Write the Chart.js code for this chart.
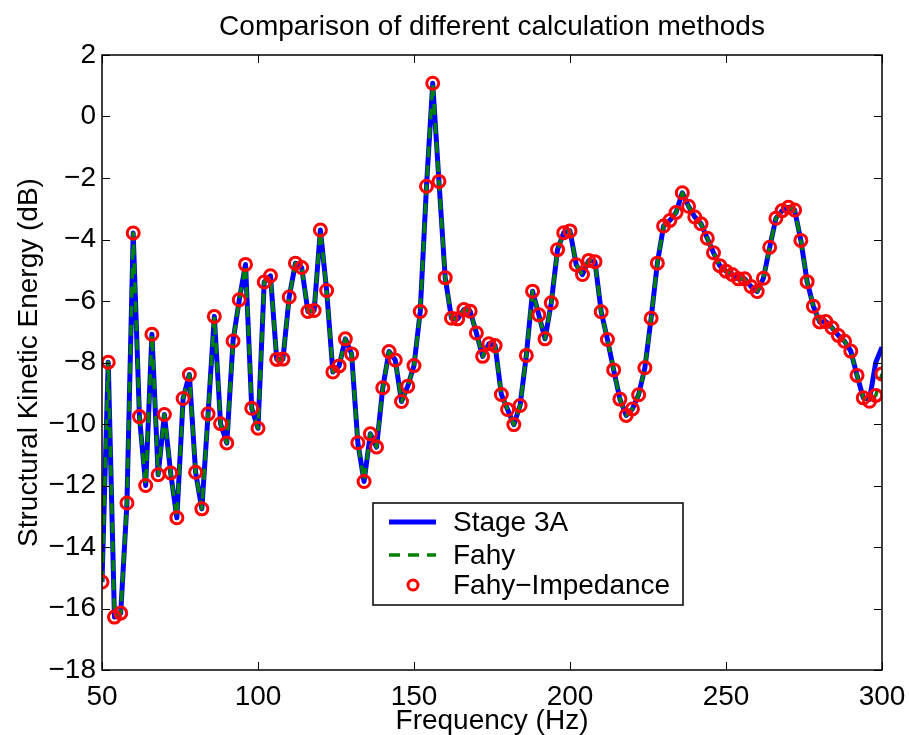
<!DOCTYPE html>
<html>
<head>
<meta charset="utf-8">
<script src="https://cdn.jsdelivr.net/npm/chart.js@4.4.0/dist/chart.umd.min.js"></script>
<style>
  html, body { margin: 0; padding: 0; background: #fff; }
  canvas { display: block; }
</style>
</head>
<body>
<canvas id="energyChart" width="909" height="735"></canvas>
<script>
// Frequency grid (Hz)
const freqs = [50, 52, 54, 56, 58, 60, 62, 64, 66, 68, 70, 72, 74, 76, 78, 80, 82, 84, 86, 88,
  90, 92, 94, 96, 98, 100, 102, 104, 106, 108, 110, 112, 114, 116, 118, 120, 122, 124, 126, 128,
  130, 132, 134, 136, 138, 140, 142, 144, 146, 148, 150, 152, 154, 156, 158, 160, 162, 164, 166, 168,
  170, 172, 174, 176, 178, 180, 182, 184, 186, 188, 190, 192, 194, 196, 198, 200, 202, 204, 206, 208,
  210, 212, 214, 216, 218, 220, 222, 224, 226, 228, 230, 232, 234, 236, 238, 240, 242, 244, 246, 248,
  250, 252, 254, 256, 258, 260, 262, 264, 266, 268, 270, 272, 274, 276, 278, 280, 282, 284, 286, 288,
  290, 292, 294, 296, 298, 300];

// Fahy method (dB)
const fahy = [-15.14, -7.99, -16.28, -16.15, -12.57, -3.79, -9.76, -12.0, -7.08, -11.65,
  -9.69, -11.59, -13.05, -9.17, -8.39, -11.57, -12.76, -9.67, -6.50, -9.99,
  -10.62, -7.30, -5.96, -4.81, -9.49, -10.14, -5.38, -5.18, -7.90, -7.89,
  -5.87, -4.77, -4.91, -6.34, -6.31, -3.69, -5.66, -8.31, -8.11, -7.23,
  -7.72, -10.61, -11.87, -10.32, -10.75, -8.82, -7.64, -7.92, -9.27, -8.77,
  -8.10, -6.34, -2.27, 1.08, -2.11, -5.24, -6.56, -6.58, -6.28, -6.33,
  -7.04, -7.80, -7.39, -7.45, -9.04, -9.53, -10.02, -9.40, -7.77, -5.68,
  -6.45, -7.23, -6.06, -4.33, -3.78, -3.72, -4.82, -5.14, -4.68, -4.72,
  -6.35, -7.25, -8.24, -9.19, -9.72, -9.51, -9.05, -8.17, -6.56, -4.77,
  -3.56, -3.38, -3.12, -2.48, -2.92, -3.27, -3.49, -3.96, -4.43, -4.85,
  -5.03, -5.14, -5.28, -5.28, -5.53, -5.69, -5.26, -4.25, -3.31, -3.06,
  -2.95, -3.04, -4.03, -5.37, -6.17, -6.68, -6.67, -6.87, -7.12, -7.31,
  -7.63, -8.42, -9.15, -9.26, -9.07, -8.37];

// Fahy-Impedance sits on the Fahy curve
const fahyImpedance = fahy.slice();

// Stage 3A follows Fahy except the last few points
const stage3A = fahy.slice(0, -3).concat([-9.2, -8.0, -7.5]);

const yTicks = [-18, -16, -14, -12, -10, -8, -6, -4, -2, 0, 2];
const xTicks = [50, 100, 150, 200, 250, 300];

const FONT = "'Liberation Sans', Arial, Helvetica, sans-serif";

function toPoints(vals) {
  return freqs.map(function (f, i) { return { x: f, y: vals[i] }; });
}

// Box frame with inward ticks on all four sides (MATLAB look)
const framePlugin = {
  id: "frame",
  afterDraw(chart) {
    const ctx = chart.ctx;
    const a = chart.chartArea;
    const xs = chart.scales.x, ys = chart.scales.y;
    const len = 8;
    ctx.save();
    ctx.strokeStyle = "#000";
    ctx.lineWidth = 1;
    ctx.beginPath();
    xTicks.forEach(function (t) {
      const px = Math.round(xs.getPixelForValue(t)) + 0.5;
      ctx.moveTo(px, a.bottom); ctx.lineTo(px, a.bottom - len);
      ctx.moveTo(px, a.top); ctx.lineTo(px, a.top + len);
    });
    yTicks.forEach(function (t) {
      const py = Math.round(ys.getPixelForValue(t)) + 0.5;
      ctx.moveTo(a.left, py); ctx.lineTo(a.left + len, py);
      ctx.moveTo(a.right, py); ctx.lineTo(a.right - len, py);
    });
    ctx.stroke();
    ctx.lineWidth = 1.5;
    ctx.strokeRect(a.left, a.top, a.right - a.left, a.bottom - a.top);
    ctx.restore();
  }
};

// Legend box drawn inside the plot
const legendBoxPlugin = {
  id: "legendBox",
  afterDraw(chart) {
    const ctx = chart.ctx;
    const ds = chart.data.datasets;
    const box = { x: 373, y: 503, w: 310, h: 102 };
    const rows = [522, 555, 585];
    ctx.save();
    ctx.fillStyle = "#fff";
    ctx.fillRect(box.x, box.y, box.w, box.h);
    ctx.strokeStyle = "#000";
    ctx.lineWidth = 1.5;
    ctx.strokeRect(box.x, box.y, box.w, box.h);
    ctx.font = "28px " + FONT;
    ctx.textBaseline = "middle";
    // Stage 3A
    ctx.strokeStyle = ds[0].borderColor;
    ctx.lineWidth = ds[0].borderWidth;
    ctx.beginPath(); ctx.moveTo(389, rows[0]); ctx.lineTo(436, rows[0]); ctx.stroke();
    // Fahy
    ctx.strokeStyle = ds[1].borderColor;
    ctx.lineWidth = ds[1].borderWidth;
    ctx.setLineDash(ds[1].borderDash);
    ctx.beginPath(); ctx.moveTo(389, rows[1]); ctx.lineTo(436, rows[1]); ctx.stroke();
    ctx.setLineDash([]);
    // Fahy-Impedance
    ctx.strokeStyle = ds[2].pointBorderColor;
    ctx.lineWidth = ds[2].pointBorderWidth;
    ctx.beginPath(); ctx.arc(413, rows[2], 5, 0, Math.PI * 2); ctx.stroke();
    ctx.fillStyle = "#000";
    ds.forEach(function (d, i) { ctx.fillText(d.label, 453, rows[i] + 1); });
    ctx.restore();
  }
};

const energyConfig = {
  type: "line",
  data: {
    datasets: [
      {
        label: "Stage 3A",
        data: toPoints(stage3A),
        borderColor: "rgb(0, 0, 255)",
        borderWidth: 5,
        borderJoinStyle: "round",
        pointRadius: 0,
        tension: 0,
        order: 3,
      },
      {
        label: "Fahy",
        data: toPoints(fahy),
        borderColor: "rgb(0, 128, 0)",
        borderWidth: 3.5,
        borderDash: [11, 8],
        borderJoinStyle: "round",
        pointRadius: 0,
        tension: 0,
        order: 2,
      },
      {
        label: "Fahy\u2212Impedance",
        data: toPoints(fahyImpedance),
        showLine: false,
        pointRadius: 6,
        pointBorderWidth: 3,
        pointBorderColor: "rgb(255, 0, 0)",
        pointBackgroundColor: "rgba(0,0,0,0)",
        order: 1,
      },
    ],
  },
  options: {
    responsive: false,
    animation: false,
    events: [],
    layout: { autoPadding: false, padding: { left: 0, right: 27, top: 0, bottom: 0 } },
    plugins: {
      legend: { display: false },
      tooltip: { enabled: false },
      title: {
        display: true,
        fullSize: false,
        text: "Comparison of different calculation methods",
        color: "#000",
        font: { family: FONT, size: 28, weight: "normal" },
        padding: { top: 10, bottom: 11.4 },
      },
    },
    scales: {
      x: {
        type: "linear",
        min: 50,
        max: 300,
        grid: { display: false, drawTicks: false },
        border: { display: false },
        afterBuildTicks(scale) { scale.ticks = xTicks.map(function (v) { return { value: v }; }); },
        ticks: {
          color: "#000",
          padding: 10,
          maxRotation: 0,
          font: { family: FONT, size: 28 },
        },
        title: {
          display: true,
          text: "Frequency (Hz)",
          color: "#000",
          font: { family: FONT, size: 28 },
          padding: { top: 0, bottom: -3 },
        },
        afterFit(scale) {
          scale.height = 65;
          scale.paddingLeft = 0;
          scale.paddingRight = 0;
        },
      },
      y: {
        min: -18,
        max: 2,
        grid: { display: false, drawTicks: false },
        border: { display: false },
        afterBuildTicks(scale) { scale.ticks = yTicks.map(function (v) { return { value: v }; }); },
        ticks: {
          color: "#000",
          padding: 6,
          font: { family: FONT, size: 28 },
          callback: function (v) { return String(v).replace("-", "\u2212"); },
        },
        title: {
          display: true,
          text: "Structural Kinetic Energy (dB)",
          color: "#000",
          font: { family: FONT, size: 28 },
          padding: { top: 12, bottom: 0 },
        },
        afterFit(scale) {
          scale.width = 102;
          scale.paddingTop = 0;
          scale.paddingBottom = 0;
        },
      },
    },
  },
  plugins: [framePlugin, legendBoxPlugin],
};

var energyChart = new Chart(document.getElementById("energyChart"), energyConfig);
</script>
</body>
</html>
